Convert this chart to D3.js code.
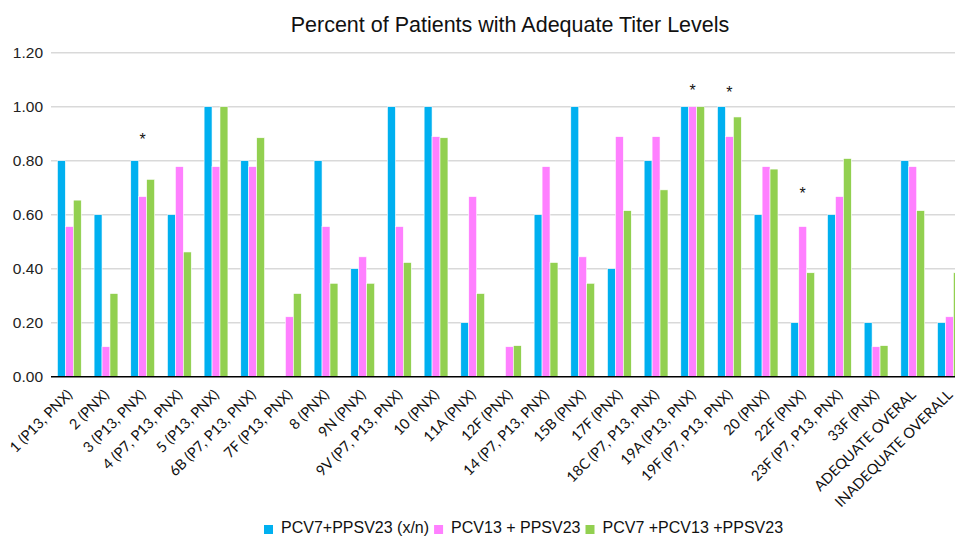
<!DOCTYPE html>
<html><head><meta charset="utf-8">
<script src="https://cdn.jsdelivr.net/npm/d3@7"></script>
<style>
html,body{margin:0;padding:0;background:#fff;overflow:hidden}
svg{display:block}
</style></head>
<body>
<svg id="chart" width="955" height="536"></svg>
<script>
const categories = ["1 (P13, PNX)","2 (PNX)","3 (P13, PNX)","4 (P7, P13, PNX)","5 (P13, PNX)","6B (P7, P13, PNX)","7F (P13, PNX)","8 (PNX)","9N (PNX)","9V (P7, P13, PNX)","10 (PNX)","11A (PNX)","12F (PNX)","14 (P7, P13, PNX)","15B (PNX)","17F (PNX)","18C (P7, P13, PNX)","19A (P13, PNX)","19F (P7, P13, PNX)","20 (PNX)","22F (PNX)","23F (P7, P13, PNX)","33F (PNX)","ADEQUATE OVERAL","INADEQUATE OVERALL"];
const seriesNames = ["PCV7+PPSV23 (x/n)","PCV13 + PPSV23","PCV7 +PCV13 +PPSV23"];
const pcv7 =     [0.80,0.60,0.80,0.60,1.00,0.80,0.00,0.80,0.40,1.00,1.00,0.20,0.00,0.60,1.00,0.40,0.80,1.00,1.00,0.60,0.20,0.60,0.20,0.80,0.20];
const pcv13 =    [0.556,0.111,0.667,0.778,0.778,0.778,0.222,0.556,0.444,0.556,0.889,0.667,0.111,0.778,0.444,0.889,0.889,1.00,0.889,0.778,0.556,0.667,0.111,0.778,0.222];
const pcv7pcv13 =[0.654,0.308,0.731,0.462,1.00,0.885,0.308,0.346,0.346,0.423,0.885,0.308,0.115,0.423,0.346,0.615,0.692,1.00,0.962,0.769,0.385,0.808,0.115,0.615,0.385];
const yTicks = [0,0.2,0.4,0.6,0.8,1.0,1.2];
const asteriskCats = ["3 (P13, PNX)","19A (P13, PNX)","19F (P7, P13, PNX)","22F (PNX)"];
const asteriskVals = [0.889,1.068,1.062,0.688];
const colors = ["#00B0F0","#FF80FF","#92D050"];
const title = "Percent of Patients with Adequate Titer Levels";

const svg = d3.select("#chart");
const step = 36.67;
const x0 = d3.scaleBand().domain(categories).range([51, 51 + step*categories.length]).paddingInner(0.35).paddingOuter(0.175);
const x1 = d3.scaleBand().domain([0,1,2]).range([0, x0.bandwidth()]);
const y = d3.scaleLinear().domain([0,1.2]).range([376.7, 52.7]);

// gridlines
svg.append("g").selectAll("line").data(yTicks.filter(d=>d>0)).join("line")
  .attr("x1",51).attr("x2",955).attr("y1",d=>y(d)).attr("y2",d=>y(d))
  .attr("stroke","#d9d9d9").attr("stroke-width",1.5);

// y labels
svg.append("g").selectAll("text").data(yTicks).join("text")
  .attr("x",43).attr("y",d=>y(d)).attr("dy","0.36em")
  .attr("text-anchor","end").attr("font-family","Liberation Sans, Arial, sans-serif")
  .attr("font-size",15.5).attr("fill","#222").text(d=>d.toFixed(2));

// bars
const series = [pcv7, pcv13, pcv7pcv13];
const g = svg.append("g");
categories.forEach((c,i)=>{
  series.forEach((s,j)=>{
    if (s[i] <= 0) return;
    g.append("rect")
      .attr("x", x0(c)+x1(j)).attr("width", x1.bandwidth())
      .attr("y", y(s[i])).attr("height", y(0)-y(s[i]))
      .attr("fill", colors[j]).attr("stroke","#fff").attr("stroke-width",0.6);
  });
});

// axis line
svg.append("line").attr("x1",51).attr("x2",955).attr("y1",y(0)).attr("y2",y(0))
  .attr("stroke","#000").attr("stroke-width",1.5);

// x labels
svg.append("g").selectAll("text").data(categories).join("text")
  .attr("transform", d=>`translate(${x0(d)+x0.bandwidth()/2+4},${y(0)+19}) rotate(-45)`)
  .attr("text-anchor","end").attr("font-family","Lato, Carlito, Calibri, sans-serif")
  .attr("font-size",14.5).attr("fill","#111").text(d=>d);

// asterisks
svg.append("g").selectAll("text").data(asteriskCats).join("text")
  .attr("x",(d)=>x0(d)+x0.bandwidth()/2).attr("y",(d,i)=>y(asteriskVals[i])+8)
  .attr("text-anchor","middle").attr("font-family","Liberation Sans, Arial, sans-serif")
  .attr("font-size",16).attr("fill","#111").text("*");

// title
svg.append("text").attr("x",510).attr("y",31.5).attr("text-anchor","middle")
  .attr("font-family","Liberation Sans, Arial, sans-serif").attr("font-size",21.5)
  .attr("fill","#111").text(title);

// legend (sequential layout)
const lg = svg.append("g");
let lx = 264;
seriesNames.forEach((n,j)=>{
  lg.append("rect").attr("x",lx).attr("y",525).attr("width",9).attr("height",9).attr("fill",colors[j]);
  const t = lg.append("text").attr("x",lx+17).attr("y",533.3)
    .attr("font-family","Liberation Sans, Arial, sans-serif").attr("font-size",16)
    .attr("fill","#111").text(n);
  lx = lx + 17 + t.node().getComputedTextLength() + 5;
});
</script>
</body></html>
